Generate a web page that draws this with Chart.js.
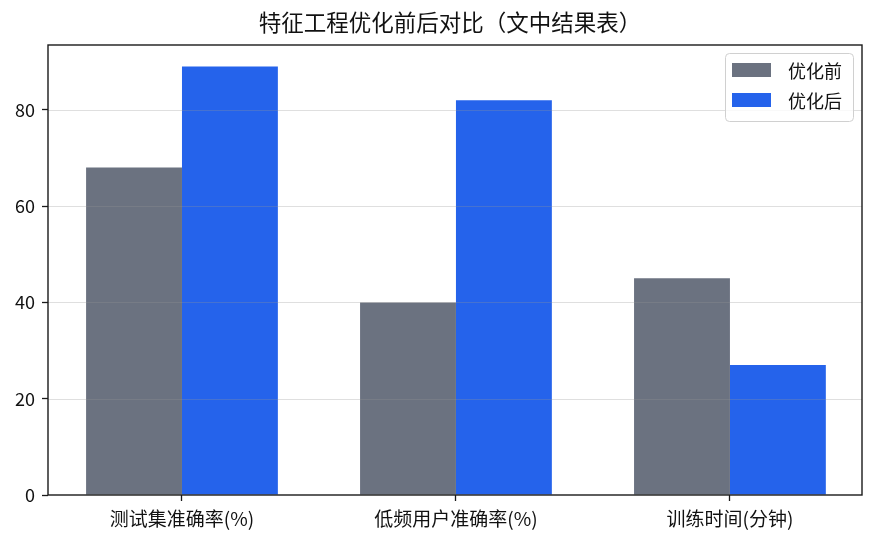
<!DOCTYPE html>
<html>
<head>
<meta charset="utf-8">
<script src="https://cdn.jsdelivr.net/npm/chart.js@4.4.1/dist/chart.umd.min.js"></script>
<style>
  html, body { margin: 0; padding: 0; background: #fff; }
  #wrap { width: 876px; height: 545px; }
</style>
</head>
<body>
<div id="wrap"><canvas id="chart" width="876" height="545"></canvas></div>
<script>
// 数据（文中结果表）
const categories = ["测试集准确率(%)", "低频用户准确率(%)", "训练时间(分钟)"];
const seriesNames = ["优化前", "优化后"];
const beforeValues = [68, 40, 45];
const afterValues = [89, 82, 27];
const yTicks = [0, 20, 40, 60, 80];

const FONT = "'Noto Sans CJK SC', 'Noto Sans', sans-serif";
const colors = ["#6b7280", "#2563eb"];

// 标题 + 网格 + 边框 + 图例（画在图表区内部）
const decor = {
  id: "decor",
  afterDatasetsDraw(chart) {
    const { ctx, chartArea: a, scales } = chart;
    ctx.save();
    // 网格线画在柱子上面
    ctx.strokeStyle = "rgba(150,150,150,0.3)";
    ctx.lineWidth = 1.2;
    yTicks.forEach(t => {
      if (t === 0) return;
      const y = Math.round(scales.y.getPixelForValue(t)) + 0.5;
      ctx.beginPath();
      ctx.moveTo(a.left, y);
      ctx.lineTo(a.right, y);
      ctx.stroke();
    });
    // 边框
    ctx.strokeStyle = "#1a1a1a";
    ctx.lineWidth = 1.4;
    ctx.strokeRect(a.left, a.top, a.right - a.left, a.bottom - a.top);
    // 标题
    ctx.fillStyle = "#111";
    ctx.font = "22.5px " + FONT;
    ctx.textAlign = "center";
    ctx.textBaseline = "middle";
    ctx.fillText("特征工程优化前后对比（文中结果表）", 450, 22);
    // 图例
    const bx = a.right - 137, by = a.top + 8, bw = 128, bh = 68;
    ctx.fillStyle = "rgba(255,255,255,0.8)";
    ctx.strokeStyle = "#d0d0d0";
    ctx.lineWidth = 1;
    ctx.beginPath();
    ctx.roundRect(bx + 0.5, by + 0.5, bw, bh, 4);
    ctx.fill();
    ctx.stroke();
    ctx.font = "18px " + FONT;
    ctx.textAlign = "left";
    chart.data.datasets.forEach((ds, i) => {
      const cy = by + 17 + i * 30;
      ctx.fillStyle = ds.backgroundColor;
      ctx.fillRect(bx + 7, cy - 7, 39, 14);
      ctx.fillStyle = "#111";
      ctx.fillText(ds.label, bx + 63, cy + 1);
    });
    ctx.restore();
  }
};

new Chart(document.getElementById("chart"), {
  type: "bar",
  data: {
    datasets: [
      {
        label: seriesNames[0],
        data: beforeValues.map((v, i) => ({ x: i, y: v })),
        backgroundColor: colors[0],
        categoryPercentage: 0.7,
        barPercentage: 1.0
      },
      {
        label: seriesNames[1],
        data: afterValues.map((v, i) => ({ x: i, y: v })),
        backgroundColor: colors[1],
        categoryPercentage: 0.7,
        barPercentage: 1.0
      }
    ]
  },
  options: {
    responsive: false,
    animation: false,
    layout: { padding: { top: 45, right: 14, left: 0, bottom: 0 } },
    plugins: {
      legend: { display: false },
      title: { display: false },
      tooltip: { enabled: false }
    },
    scales: {
      x: {
        type: "linear",
        min: -0.489,
        max: 2.482,
        offset: false,
        afterFit(s) { s.height = 50; },
        afterBuildTicks(s) { s.ticks = categories.map((c, i) => ({ value: i })); },
        grid: { offset: false, drawOnChartArea: false, tickLength: 6, tickColor: "#1a1a1a", tickWidth: 1.3 },
        border: { display: false },
        ticks: {
          padding: 6,
          color: "#111",
          font: { family: FONT, size: 19 },
          maxRotation: 0,
          autoSkip: false,
          callback: v => categories[v]
        }
      },
      y: {
        min: 0,
        max: 93.45,
        afterFit(s) { s.width = 48; },
        afterBuildTicks(s) { s.ticks = yTicks.map(v => ({ value: v })); },
        grid: { drawOnChartArea: false, tickLength: 6, tickColor: "#1a1a1a", tickWidth: 1.3 },
        border: { display: false },
        ticks: {
          padding: 7,
          color: "#111",
          font: { family: FONT, size: 18 }
        }
      }
    }
  },
  plugins: [decor]
});
</script>
</body>
</html>
